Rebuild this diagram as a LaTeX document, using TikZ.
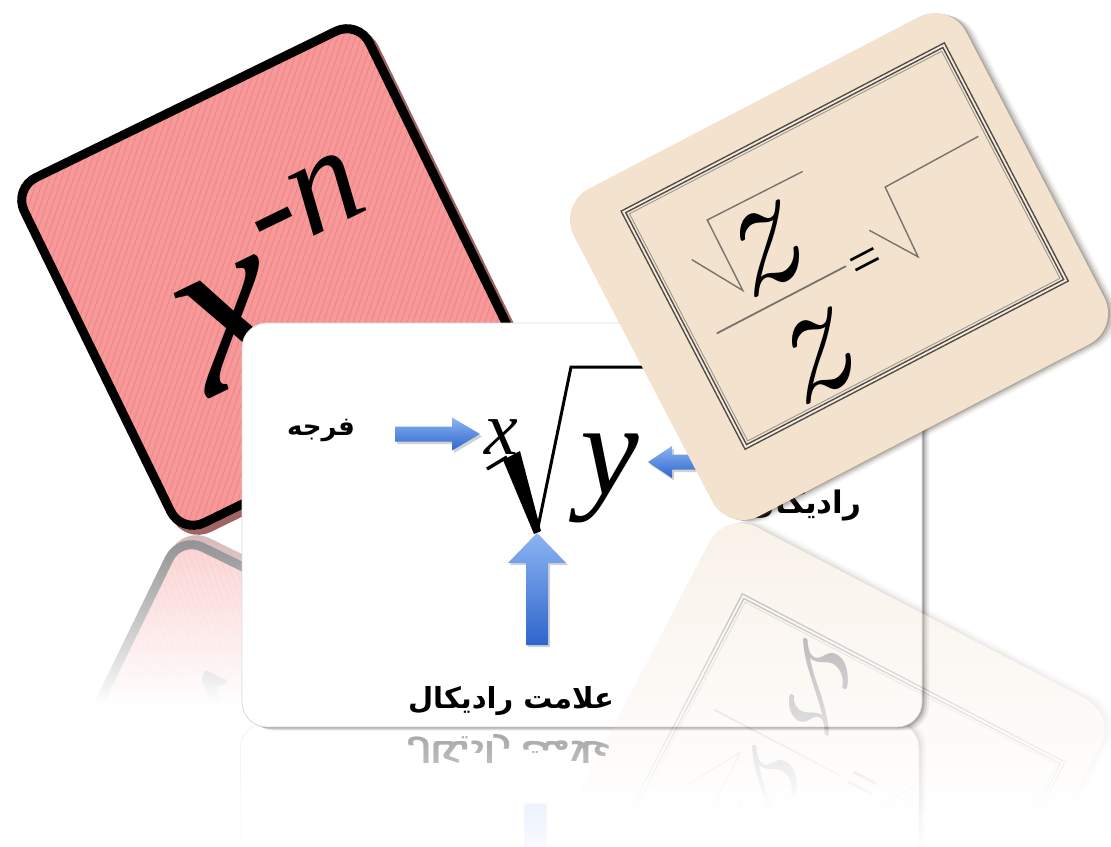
\documentclass[tikz,border=0pt]{standalone}
\usepackage{fontspec}
\setmainfont{Liberation Serif}
\newfontfamily\arabicfont[Script=Arabic]{DejaVu Sans}
\newfontfamily\lmfont{Latin Modern Roman}
\TeXXeTstate=1
\usetikzlibrary{fadings}

\definecolor{cardpink}{RGB}{249,152,152}
\definecolor{stripepink}{RGB}{234,136,136}
\definecolor{pinkshadow}{RGB}{160,100,100}
\definecolor{cardbeige}{RGB}{242,226,206}
\definecolor{beigeshadow}{RGB}{80,68,55}
\definecolor{framegray}{RGB}{80,75,70}
\definecolor{radgray}{RGB}{120,115,110}
\definecolor{arrowlight}{RGB}{140,180,244}
\definecolor{arrowdark}{RGB}{46,102,204}

\tikzfading[name=reflfade, top color=transparent!56, bottom color=transparent!100]
\tikzfading[name=reflfaint, top color=transparent!64, bottom color=transparent!100]

% one macro per card, so that the reflection can reuse it
\newcommand\pinkcard{%
  \begin{scope}[shift={(270,277)}, rotate=26, transform shape]
    \filldraw[pinkshadow, line width=9, rounded corners=25] (-189.7,-185.3) rectangle (194.3,198.7);
    \fill[cardpink, rounded corners=25] (-192,-192) rectangle (192,192);
    \begin{scope}
      \clip[rounded corners=25] (-192,-192) rectangle (192,192);
      \foreach \k in {-580,-572,...,580}
        \draw[stripepink, line width=0.9] (\k-200,200) -- (\k+200,-200);
    \end{scope}
    \draw[line width=9, rounded corners=25] (-192,-192) rectangle (192,192);
    \node[bigx] (powbase) at (-54,28) {x};
    \node[supx] (powexp) at (64,-50) {-n};
  \end{scope}}

\newcommand\whitecard{%
  \foreach \s/\o in {7/0.07,5/0.10,3/0.14,1.5/0.18}
    \fill[black, opacity=\o, rounded corners=25] (242+\s,323+\s/3) rectangle (922+\s,727+\s/2);
  \fill[white, rounded corners=25] (242,323) rectangle (922,727);
  \draw[black!14, line width=0.8, rounded corners=25] (242,323) rectangle (922,727);
  % pointer arrows
  \fill[black, opacity=0.18] (397,429) -- (454,429) -- (454,420) -- (482,436.5) -- (454,453) -- (454,444) -- (397,444) -- cycle;
  \shade[arr] (395,426.5) -- (452,426.5) -- (452,417.5) -- (480,434) -- (452,450.5) -- (452,441.5) -- (395,441.5) -- cycle;
  \fill[black, opacity=0.18] (732,457) -- (674,457) -- (674,448.5) -- (650,464.5) -- (674,480.5) -- (674,472) -- (732,472) -- cycle;
  \shade[arr] (730,454.5) -- (672,454.5) -- (672,446) -- (648,462) -- (672,478) -- (672,469.5) -- (730,469.5) -- cycle;
  \fill[black, opacity=0.18] (528,647) -- (528,565) -- (510,565) -- (539,535) -- (568,565) -- (550,565) -- (550,647) -- cycle;
  \shade[arr] (526,645) -- (526,563) -- (508,563) -- (537,533) -- (566,563) -- (548,563) -- (548,645) -- cycle;
  % radical sign
  \draw[line width=3.4] (487,469) -- (507,457);
  \fill (503,460) -- (520,451) -- (541,531) -- (534,534) -- cycle;
  \draw[line width=3] (537,532) -- (571,367) -- (730,367);
  \node[idx] (index) at (501,437) {x};
  \node[rad] (radicand) at (610,478) {y};
  \node[lab] (farja) at (321,431) {\beginR فرجه\endR};
  \node[lab, font=\arabicfont\bfseries\fontsize{31}{36}\selectfont] (radlab) at (805,506) {\beginR رادیکال\endR};
  \node[lab, font=\arabicfont\bfseries\fontsize{29}{34}\selectfont] (signlab) at (511,701) {\beginR علامت رادیکال\endR};}

\newcommand\beigecard{%
  \foreach \s/\o in {10/0.07,7/0.11,4.5/0.16,2/0.22}
    {\begin{scope}[shift={(839+\s,266.5+\s/4)}, rotate=27.5]
      \fill[beigeshadow, opacity=\o, rounded corners=35] (-221,-184.5) rectangle (221,184.5);
    \end{scope}}
  \begin{scope}[shift={(839,266.5)}, rotate=27.5, transform shape]
    \fill[cardbeige, rounded corners=35] (-221,-184.5) rectangle (221,184.5);
    \draw[framegray, line width=1.5, double=cardbeige!70!white, double distance=1.8] (-166,-148) rectangle (195,117);
    \draw[framegray!60, line width=0.8] (-161.5,-143.5) rectangle (190.5,112.5);
    \draw[radgray, line width=1.4] (-127.4,-74.1) -- (-96.4,-23.1) -- (-95.4,-102.1) -- (11.6,-101.1);
    \draw[radgray, line width=1.4] (43.6,-18.1) -- (74.6,27.9) -- (77.6,-49.1) -- (183.6,-51.1);
    \draw[radgray, line width=1.8] (-139.4,2.9) -- (6.4,2.9);
    \node[zed] (znum) at (-65,-48.6) {z};
    \node[zed] (zden) at (-68,70) {z};
    \node[eqs] (eq) at (26.4,12.1) {=};
  \end{scope}}

\begin{document}
\begin{tikzpicture}[x=1pt, y=-1pt,
  lab/.style={font=\arabicfont\bfseries\fontsize{26}{30}\selectfont, inner sep=0pt},
  bigx/.style={font=\fontsize{240}{240}\selectfont\itshape, inner sep=0pt},
  supx/.style={font=\fontsize{140}{140}\selectfont\itshape, inner sep=0pt},
  idx/.style={font=\fontsize{76}{76}\selectfont\itshape, inner sep=0pt},
  rad/.style={font=\fontsize{132}{132}\selectfont\itshape, inner sep=0pt},
  zed/.style={font=\lmfont\fontsize{170}{170}\selectfont\itshape, inner sep=0pt},
  eqs/.style={font=\fontsize{56}{56}\selectfont, inner sep=0pt},
  arr/.style={top color=arrowlight, bottom color=arrowdark}]
\useasboundingbox (0,0) rectangle (1111,846);
\fill[white] (0,0) rectangle (1111,846);

% pink card and its reflection
\begin{scope}
  \path[scope fading=reflfade] (0,535) rectangle (1111,705);
  \begin{scope}[shift={(0,1070)}, yscale=-1, transparency group]
    \pinkcard
  \end{scope}
\end{scope}
\pinkcard

% white card and its reflection
\begin{scope}
  \path[scope fading=reflfaint] (0,727) rectangle (1111,860);
  \begin{scope}[shift={(0,1450)}, yscale=-1, transform shape, transparency group]
    \whitecard
  \end{scope}
\end{scope}
\whitecard

% beige card and its reflection
\begin{scope}
  \path[scope fading=reflfade] (0,523) rectangle (1111,810);
  \begin{scope}[shift={(0,1043)}, yscale=-1, transparency group]
    \beigecard
  \end{scope}
\end{scope}
\beigecard
\end{tikzpicture}
\end{document}
